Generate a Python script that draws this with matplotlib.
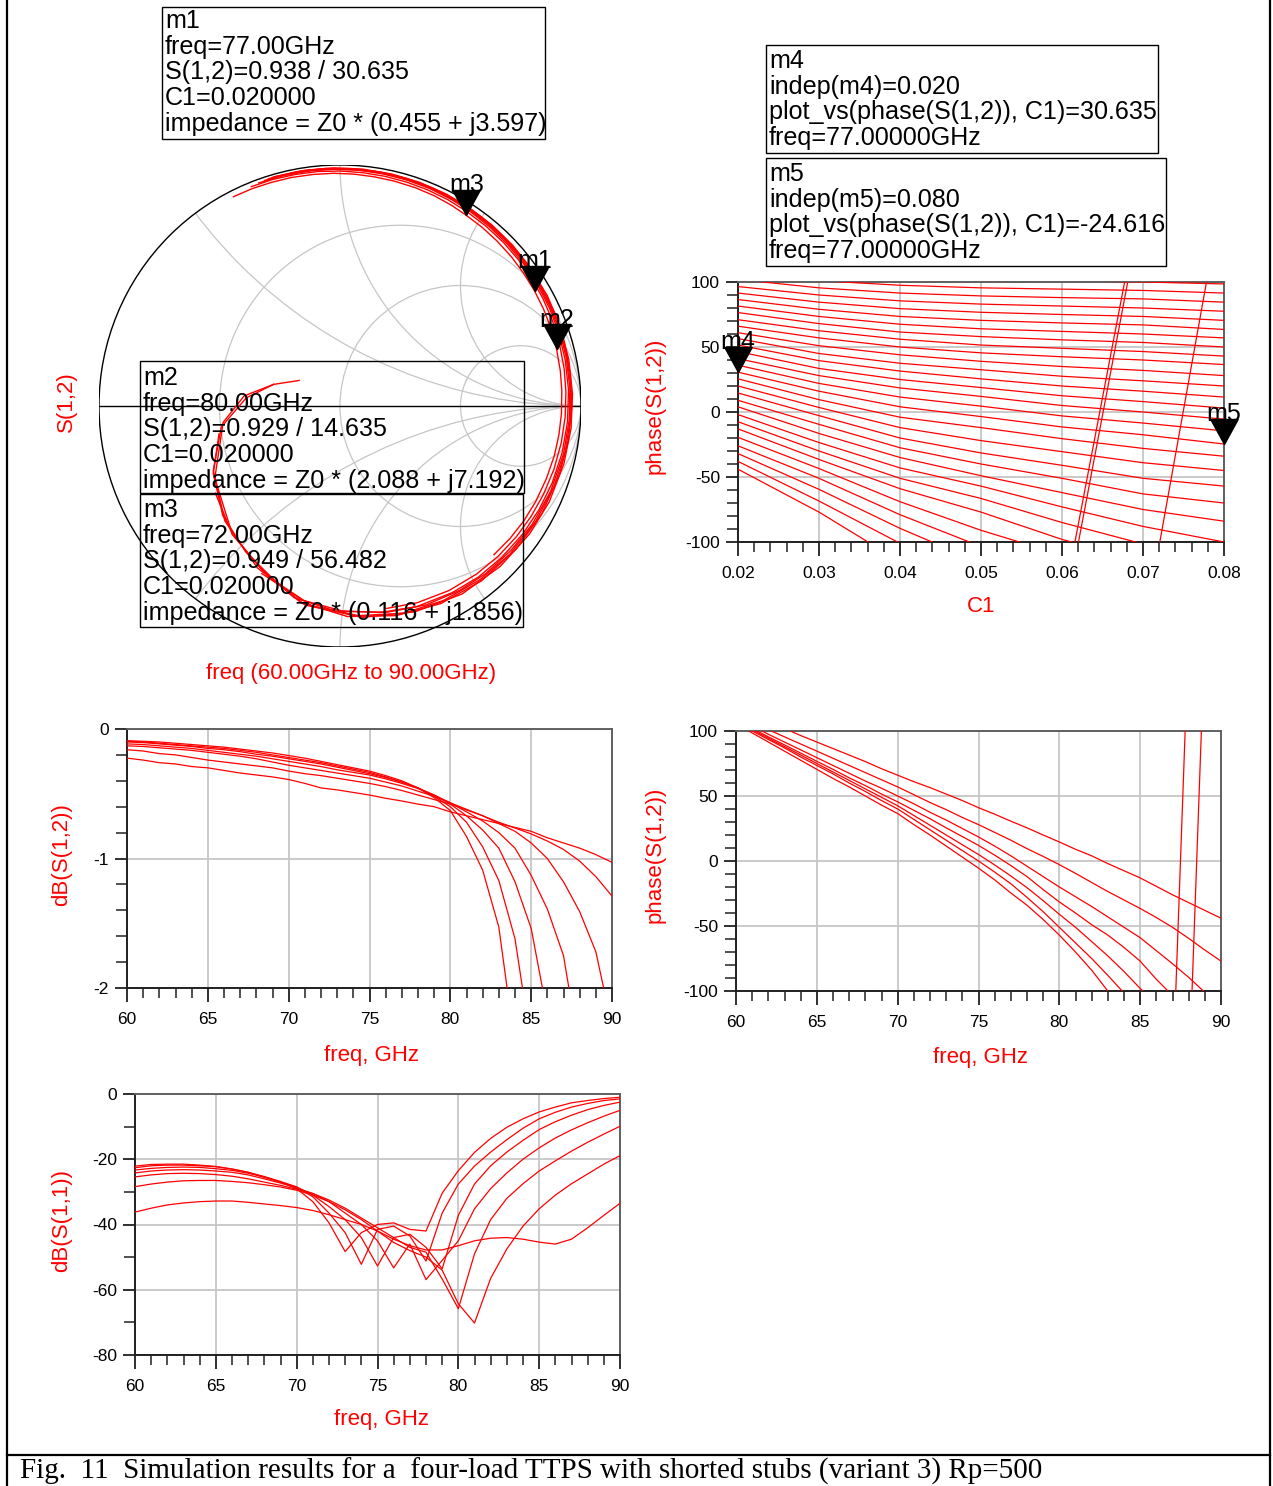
import numpy as np
import matplotlib
matplotlib.use("Agg")
import matplotlib.pyplot as plt
from matplotlib.patches import Rectangle, Circle
from matplotlib.path import Path
from matplotlib.ticker import MultipleLocator, FormatStrFormatter

plt.rcParams['font.family'] = ['Liberation Sans', 'DejaVu Sans']
plt.rcParams['axes.unicode_minus'] = False

# ---------------- data ----------------
freq_ghz = [60, 61, 62, 63, 64, 65, 66, 67, 68, 69, 70, 71, 72, 73, 74, 75,
            76, 77, 78, 79, 80, 81, 82, 83, 84, 85, 86, 87, 88, 89, 90]
c1_values = [0.02, 0.03, 0.04, 0.05, 0.06, 0.07, 0.08]

# phase(S(1,2)) in degrees (unwrapped), one list per C1 value
phase_c1_002 = [117, 112, 107, 102, 96.5, 91.5, 86.5, 81.5, 76.5, 71, 66, 61, 56.482, 51.5, 46.5, 41,
                36, 30.635, 25.5, 20, 14.635, 9, 4, -2, -7.5, -13, -19.5, -26, -32, -38, -44]
phase_c1_003 = [112, 106.5, 101, 95.5, 90, 84.5, 79, 73.5, 68, 62.5, 57, 51, 45, 39.5, 33.5, 28,
                22, 16, 9.5, 3.5, -2.8, -9.5, -16.5, -23.5, -30, -36.5, -43.5, -51, -59.5, -68.5, -77]
phase_c1_004 = [110, 104, 97.5, 91.5, 85.5, 79.5, 73.5, 67.5, 61.5, 56, 50, 44, 37.5, 31.5, 25, 18.5,
                11.5, 4, -4, -12, -20, -27.5, -35, -43, -51, -59, -69, -79, -89.5, -101, -115]
phase_c1_005 = [108.5, 102, 95.5, 89.3, 83, 76.7, 70.5, 64, 58, 51.5, 45.5, 39, 32.5, 25.5, 18.8, 12,
                4.5, -3.5, -12, -22, -31.5, -40, -49, -57, -66.5, -77, -91, -103.5, -116, -130, -145]
phase_c1_006 = [107.5, 101, 94.5, 88, 81.5, 75, 68.5, 62, 55.5, 49, 42.5, 35, 27.5, 20, 12.5, 5,
                -3, -11.5, -20.5, -30.5, -41, -51, -62, -73, -85, -98, -110, -123, -137, -152, -167]
phase_c1_007 = [106.5, 100, 93.5, 87, 80, 73.5, 67, 60, 53.5, 46.5, 40, 32, 24, 16, 8, 0,
                -8.5, -17.5, -28, -39, -51, -63, -75, -88, -101.5, -115, -130, -150, -172, -186, -198]
phase_c1_008 = [106, 98.5, 91.5, 84.5, 77.5, 70.5, 63.5, 57, 50, 43, 36.5, 28, 20, 11.5, 3, -5.5,
                -14.5, -24.616, -34, -45, -57, -70, -84, -100, -117, -135, -153, -170, -185, -198, -212]

# dB(S(1,2))
db21_c1_002 = [-0.225, -0.24, -0.26, -0.27, -0.29, -0.30, -0.32, -0.34, -0.355, -0.37, -0.39, -0.42, -0.455,
               -0.47, -0.49, -0.51, -0.535, -0.556, -0.58, -0.60, -0.640, -0.67, -0.70, -0.73, -0.76, -0.79,
               -0.84, -0.88, -0.92, -0.97, -1.03]
db21_c1_003 = [-0.16, -0.17, -0.19, -0.20, -0.22, -0.24, -0.255, -0.27, -0.285, -0.30, -0.325, -0.345, -0.36,
               -0.38, -0.40, -0.42, -0.445, -0.475, -0.51, -0.545, -0.58, -0.625, -0.67, -0.72, -0.765, -0.81,
               -0.865, -0.93, -1.02, -1.14, -1.29]
db21_c1_004 = [-0.13, -0.135, -0.145, -0.155, -0.165, -0.18, -0.195, -0.21, -0.23, -0.255, -0.28, -0.30, -0.32,
               -0.34, -0.36, -0.38, -0.41, -0.44, -0.48, -0.52, -0.57, -0.62, -0.67, -0.73, -0.79, -0.88,
               -1.0, -1.18, -1.41, -1.72, -2.3]
db21_c1_005 = [-0.115, -0.12, -0.13, -0.14, -0.15, -0.165, -0.18, -0.195, -0.21, -0.23, -0.25, -0.27, -0.29,
               -0.315, -0.335, -0.355, -0.385, -0.42, -0.46, -0.51, -0.57, -0.64, -0.71, -0.80, -0.92, -1.13,
               -1.39, -1.75, -2.5, -3.16, -4.0]
db21_c1_006 = [-0.10, -0.105, -0.115, -0.125, -0.135, -0.15, -0.16, -0.175, -0.195, -0.21, -0.23, -0.25, -0.27,
               -0.295, -0.32, -0.345, -0.375, -0.41, -0.455, -0.51, -0.58, -0.67, -0.78, -0.92, -1.18, -1.54,
               -2.2, -2.85, -3.54, -4.5, -5.76]
db21_c1_007 = [-0.095, -0.10, -0.11, -0.12, -0.13, -0.14, -0.15, -0.165, -0.18, -0.20, -0.22, -0.24, -0.26,
               -0.285, -0.31, -0.335, -0.37, -0.41, -0.455, -0.52, -0.60, -0.72, -0.91, -1.17, -1.62, -2.44,
               -3.16, -4.44, -6.2, -7.96, -10.75]
db21_c1_008 = [-0.09, -0.095, -0.10, -0.11, -0.12, -0.13, -0.14, -0.155, -0.17, -0.185, -0.205, -0.225, -0.25,
               -0.275, -0.30, -0.325, -0.36, -0.40, -0.455, -0.53, -0.63, -0.83, -1.09, -1.53, -2.45, -3.41,
               -4.58, -6.02, -8.18, -10.75, -13.98]

# dB(S(1,1))
db11_c1_002 = [-36.2, -35.0, -34.0, -33.4, -33.0, -32.8, -32.8, -33.2, -33.7, -34.2, -34.8, -35.7, -37.0, -38.5,
               -40.0, -42.0, -44.5, -46.5, -47.8, -47.8, -46.5, -45.0, -44.2, -44.0, -44.5, -45.4, -46.0, -44.5,
               -41.0, -37.2, -33.5]
db11_c1_003 = [-28.4, -27.6, -27.0, -26.6, -26.5, -26.5, -26.8, -27.2, -27.8, -28.5, -29.5, -31.0, -33.0, -35.5,
               -38.5, -42.0, -45.5, -48.0, -50.0, -54.0, -64.3, -70.2, -56.5, -47.5, -40.5, -35.2, -31.0, -27.5,
               -24.5, -21.5, -18.9]
db11_c1_004 = [-25.4, -24.8, -24.4, -24.3, -24.4, -24.7, -25.2, -26.0, -27.0, -28.0, -29.2, -30.5, -32.5, -35.0,
               -38.0, -41.0, -44.0, -47.0, -48.5, -56.7, -65.8, -49.0, -38.5, -32.0, -27.5, -23.6, -20.5, -17.5,
               -14.8, -12.3, -9.9]
db11_c1_005 = [-24.2, -23.6, -23.3, -23.2, -23.3, -23.6, -24.0, -24.8, -26.0, -27.3, -28.8, -30.5, -33.0, -36.5,
               -40.0, -45.0, -53.3, -46.0, -56.9, -51.0, -45.0, -35.2, -29.0, -24.2, -20.0, -16.5, -13.5, -11.0,
               -8.8, -6.8, -5.0]
db11_c1_006 = [-23.3, -22.8, -22.5, -22.4, -22.5, -22.9, -23.4, -24.3, -25.5, -27.0, -28.5, -31.0, -34.5, -38.5,
               -44.0, -52.7, -44.0, -43.0, -47.0, -53.6, -37.2, -27.6, -22.0, -17.8, -14.2, -10.9, -8.5, -6.5,
               -4.8, -3.5, -2.5]
db11_c1_007 = [-22.6, -22.0, -21.8, -21.8, -22.0, -22.3, -23.0, -24.0, -25.3, -26.8, -28.5, -31.5, -36.5, -42.5,
               -52.2, -41.5, -40.5, -43.5, -51.2, -36.5, -27.6, -22.1, -17.8, -14.0, -10.5, -7.6, -5.6, -4.0,
               -2.9, -2.0, -1.5]
db11_c1_008 = [-22.1, -21.6, -21.5, -21.5, -21.8, -22.2, -23.0, -24.0, -25.5, -27.0, -29.0, -33.0, -39.5, -48.3,
               -42.5, -40.0, -39.5, -41.5, -42.0, -30.4, -23.5, -17.9, -13.6, -10.2, -7.6, -5.5, -4.0, -2.7,
               -2.0, -1.4, -1.0]

phase_table = np.array([phase_c1_002, phase_c1_003, phase_c1_004, phase_c1_005,
                        phase_c1_006, phase_c1_007, phase_c1_008])
db21_table = np.array([db21_c1_002, db21_c1_003, db21_c1_004, db21_c1_005,
                       db21_c1_006, db21_c1_007, db21_c1_008])
db11_table = np.array([db11_c1_002, db11_c1_003, db11_c1_004, db11_c1_005,
                       db11_c1_006, db11_c1_007, db11_c1_008])

# markers
smith_markers = [("m3", 0.949, 56.482), ("m1", 0.938, 30.635), ("m2", 0.929, 14.635)]
c1_markers = [("m4", 0.020, 30.635), ("m5", 0.080, -24.616)]

box_m1 = ["m1", "freq=77.00GHz", "S(1,2)=0.938 / 30.635", "C1=0.020000",
          "impedance = Z0 * (0.455 + j3.597)"]
box_m2 = ["m2", "freq=80.00GHz", "S(1,2)=0.929 / 14.635", "C1=0.020000",
          "impedance = Z0 * (2.088 + j7.192)"]
box_m3 = ["m3", "freq=72.00GHz", "S(1,2)=0.949 / 56.482", "C1=0.020000",
          "impedance = Z0 * (0.116 + j1.856)"]
box_m4 = ["m4", "indep(m4)=0.020", "plot_vs(phase(S(1,2)), C1)=30.635", "freq=77.00000GHz"]
box_m5 = ["m5", "indep(m5)=0.080", "plot_vs(phase(S(1,2)), C1)=-24.616", "freq=77.00000GHz"]

caption = "Fig.  11  Simulation results for a  four-load TTPS with shorted stubs (variant 3) Rp=500"

# ---------------- figure ----------------
W, H = 1273, 1486
fig = plt.figure(figsize=(W / 100, H / 100), dpi=100)
fig.patch.set_facecolor('white')
RED = '#ff0000'
GRID = '#c6c6c6'
BOX_FS = 18.1
TICK_FS = 12.5
LAB_FS = 16


def rect(l, t, r, b):
    return [l / W, 1 - b / H, (r - l) / W, (b - t) / H]


def ftext(x, y, s, **kw):
    return fig.text(x / W, 1 - y / H, s, **kw)


def wrap(p):
    return (np.asarray(p, dtype=float) + 180.0) % 360.0 - 180.0


tri = Path([(-0.52, 0.95), (0.52, 0.95), (0.0, 0.0), (-0.52, 0.95)],
           [Path.MOVETO, Path.LINETO, Path.LINETO, Path.CLOSEPOLY])


def marker(ax, name, x, y):
    ax.plot([x], [y], marker=tri, ms=36, color='black', mec='black', ls='none',
            clip_on=False, zorder=20)
    ax.annotate(name, xy=(x, y), xytext=(0, 16.5), textcoords='offset points',
                ha='center', va='baseline', fontsize=BOX_FS, color='black',
                annotation_clip=False, zorder=21)


def style(ax, xlim, ylim, xmaj, xmin, ymaj, ymin, xfmt, yfmt):
    ax.set_xlim(*xlim)
    ax.set_ylim(*ylim)
    ax.xaxis.set_major_locator(MultipleLocator(xmaj))
    ax.xaxis.set_minor_locator(MultipleLocator(xmin))
    ax.yaxis.set_major_locator(MultipleLocator(ymaj))
    ax.yaxis.set_minor_locator(MultipleLocator(ymin))
    ax.xaxis.set_major_formatter(FormatStrFormatter(xfmt))
    ax.yaxis.set_major_formatter(FormatStrFormatter(yfmt))
    ax.grid(True, which='major', color=GRID, lw=1.3)
    ax.set_axisbelow(True)
    for s in ['left', 'bottom']:
        ax.spines[s].set_color('#202020')
        ax.spines[s].set_linewidth(1.4)
    for s in ['top', 'right']:
        ax.spines[s].set_color('#606060')
        ax.spines[s].set_linewidth(1.4)
    ax.tick_params(which='both', direction='out', top=False, right=False, colors='#202020',
                   labelcolor='black')
    ax.tick_params(axis='x', which='major', length=10, width=1.3, pad=7, labelsize=TICK_FS)
    ax.tick_params(axis='x', which='minor', length=7, width=1.1)
    ax.tick_params(axis='y', which='major', length=9, width=1.3, pad=4, labelsize=TICK_FS)
    ax.tick_params(axis='y', which='minor', length=8, width=1.1)


# ---------- Smith chart ----------
axs = fig.add_axes(rect(99, 165, 581, 647))
axs.set_xlim(-1, 1)
axs.set_ylim(-1, 1)
axs.axis('off')
unit = Circle((0, 0), 1.0, fill=False, ec='black', lw=1.0, zorder=5)
axs.add_patch(unit)
clipc = Circle((0, 0), 1.0, transform=axs.transData, fill=False, visible=False)
axs.add_patch(clipc)
for r in [1 / 3, 1.0, 3.0]:
    c = Circle((r / (1 + r), 0), 1 / (1 + r), fill=False, ec=GRID, lw=0.9, zorder=2)
    axs.add_patch(c)
    c.set_clip_path(clipc)
for xr in [0.5, 1.0, 2.0]:
    for sgn in [1, -1]:
        c = Circle((1, sgn / xr), 1 / xr, fill=False, ec=GRID, lw=0.9, zorder=2)
        axs.add_patch(c)
        c.set_clip_path(clipc)
axs.plot([-1, 1], [0, 0], color='black', lw=1.0, zorder=5)
mag_table = 10 ** (db21_table / 20.0)
for i in range(len(c1_values)):
    g = mag_table[i] * np.exp(1j * np.deg2rad(phase_table[i]))
    axs.plot(g.real, g.imag, color=RED, lw=1.0, zorder=6)
for name, m, a in smith_markers:
    g = m * np.exp(1j * np.deg2rad(a))
    marker(axs, name, g.real, g.imag)
ftext(66, 402, "S(1,2)", rotation=90, ha='center', va='center', color=RED, fontsize=LAB_FS)
ftext(351, 674, "freq (60.00GHz to 90.00GHz)", ha='center', va='center', color=RED, fontsize=LAB_FS)

# ---------- phase vs C1 ----------
ax2 = fig.add_axes(rect(738, 282, 1224, 542))
style(ax2, (0.02, 0.08), (-100, 100), 0.01, 0.002, 50, 10, '%.2f', '%d')
wph = wrap(phase_table)
for j in range(len(freq_ghz)):
    ax2.plot(c1_values, wph[:, j], color=RED, lw=0.9, zorder=3)
for name, x, y in c1_markers:
    marker(ax2, name, x, y)
ftext(655, 406, "phase(S(1,2))", rotation=90, ha='center', va='center', color=RED, fontsize=LAB_FS)
ftext(981, 607, "C1", ha='center', va='center', color=RED, fontsize=LAB_FS)

# ---------- dB(S(1,2)) ----------
ax3 = fig.add_axes(rect(127, 729, 612, 988))
style(ax3, (60, 90), (-2, 0), 5, 1, 1, 0.2, '%d', '%d')
for i in range(len(c1_values)):
    ax3.plot(freq_ghz, db21_table[i], color=RED, lw=0.9, zorder=3)
ftext(62, 855, "dB(S(1,2))", rotation=90, ha='center', va='center', color=RED, fontsize=LAB_FS)
ftext(372, 1055, "freq, GHz", ha='center', va='center', color=RED, fontsize=LAB_FS)

# ---------- phase vs freq ----------
ax4 = fig.add_axes(rect(736, 731, 1221, 991))
style(ax4, (60, 90), (-100, 100), 5, 1, 50, 10, '%d', '%d')
for i in range(len(c1_values)):
    ax4.plot(freq_ghz, wph[i], color=RED, lw=0.9, zorder=3)
ftext(655, 855, "phase(S(1,2))", rotation=90, ha='center', va='center', color=RED, fontsize=LAB_FS)
ftext(981, 1058, "freq, GHz", ha='center', va='center', color=RED, fontsize=LAB_FS)

# ---------- dB(S(1,1)) ----------
ax5 = fig.add_axes(rect(135, 1094, 620, 1355))
style(ax5, (60, 90), (-80, 0), 5, 1, 20, 10, '%d', '%d')
for i in range(len(c1_values)):
    ax5.plot(freq_ghz, db11_table[i], color=RED, lw=0.9, zorder=3)
ftext(62, 1220, "dB(S(1,1))", rotation=90, ha='center', va='center', color=RED, fontsize=LAB_FS)
ftext(381, 1420, "freq, GHz", ha='center', va='center', color=RED, fontsize=LAB_FS)

# ---------- marker boxes ----------
def box(l, t, r, b, lines, y0, dy):
    fig.add_artist(Rectangle((l / W, 1 - b / H), (r - l) / W, (b - t) / H,
                             transform=fig.transFigure, fill=False, ec='black', lw=1.0, zorder=30))
    for k, s in enumerate(lines):
        ftext(l + 3, y0 + k * dy, s, ha='left', va='center', fontsize=BOX_FS, color='black', zorder=31)


box(162, 7, 545, 139, box_m1, 21, 25.7)
box(766, 45, 1158, 153, box_m4, 61, 25.7)
box(766, 158, 1166, 266, box_m5, 174, 25.7)
box(140, 361, 524, 493, box_m2, 378, 25.7)
box(140, 494, 523, 627, box_m3, 510, 25.7)

# ---------- frame & caption ----------
for (x0, y0, x1, y1) in [(7, 0, 7, H), (1270, 0, 1270, H), (7, 1455, 1270, 1455)]:
    fig.add_artist(plt.Line2D([x0 / W, x1 / W], [1 - y0 / H, 1 - y1 / H], transform=fig.transFigure,
                              color='black', lw=1.6))
ftext(20, 1471, caption, ha='left', va='center', fontsize=21,
      family=['Liberation Serif', 'DejaVu Serif'], color='black')

fig.savefig("out.png", dpi=100)
